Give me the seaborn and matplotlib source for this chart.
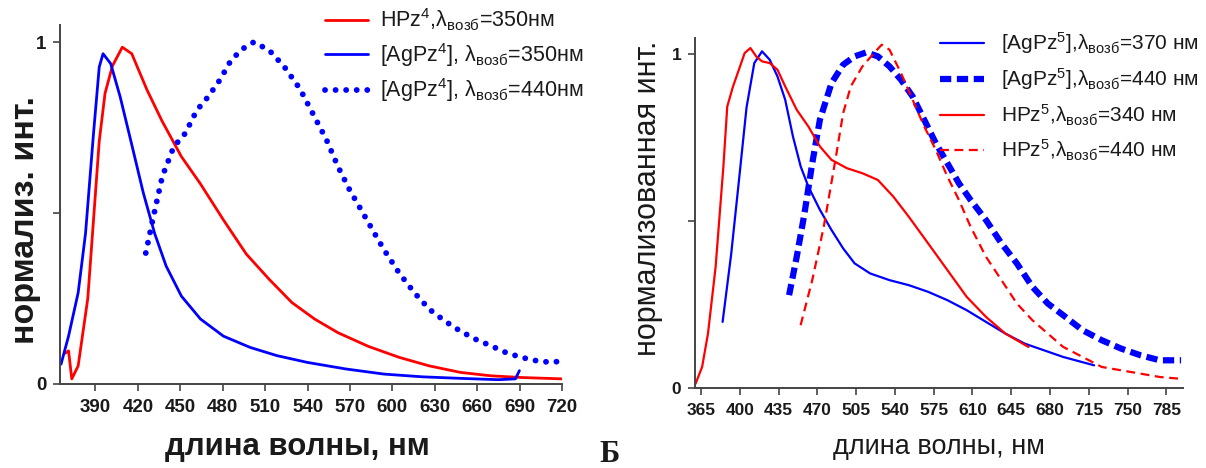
import numpy as np
import pandas as pd
import seaborn as sns
import matplotlib.pyplot as plt

sns.set_style("ticks")
plt.rcParams['font.family'] = ['Liberation Sans', 'DejaVu Sans']
plt.rcParams['mathtext.fontset'] = 'custom'
plt.rcParams['mathtext.rm'] = 'Liberation Sans'
plt.rcParams['mathtext.it'] = 'Liberation Sans:italic'
plt.rcParams['mathtext.bf'] = 'Liberation Sans:bold'

# --- левая панель: HPz4 / [AgPz4] ---
hpz4_350_x = [368.5, 371, 373.3, 377.8, 384.6, 392.7, 396.8, 402, 409, 415.7, 426.5, 437, 450.8, 464,
              480.5, 496.7, 512.9, 529, 545, 561.5, 583, 604.7, 626, 648, 669.5, 691, 720]
hpz4_350_y = [0.09, 0.097, 0.015, 0.053, 0.25, 0.71, 0.85, 0.93, 0.985, 0.966, 0.86, 0.77, 0.665, 0.587,
              0.48, 0.38, 0.306, 0.238, 0.19, 0.15, 0.11, 0.078, 0.053, 0.034, 0.024, 0.019, 0.015]

agpz4_350_x = [365.7, 371, 377.8, 383, 388.6, 392.7, 395.4, 400.8, 407.5, 415.7, 423.8, 431.9, 440, 450.8,
               464.3, 480.5, 499.4, 518.3, 540, 567, 594, 621, 648, 675, 687, 689.8]
agpz4_350_y = [0.058, 0.14, 0.267, 0.44, 0.73, 0.927, 0.966, 0.937, 0.84, 0.70, 0.56, 0.44, 0.345, 0.257,
               0.19, 0.14, 0.107, 0.083, 0.063, 0.044, 0.029, 0.021, 0.0165, 0.0126, 0.015, 0.039]

agpz4_440_x = [425.6, 430.5, 437.3, 445.4, 453.5, 461.6, 469.7, 477.8, 485.9, 494, 502, 512.9, 523.7, 534.5,
               542.6, 553.4, 561.5, 569.7, 577.8, 585.9, 594, 604.7, 615.5, 626.3, 637.1, 647.9, 658.7,
               669.5, 680.3, 691, 701.8, 712.7, 720]
agpz4_440_y = [0.383, 0.48, 0.607, 0.694, 0.733, 0.80, 0.84, 0.888, 0.947, 0.98, 1.0, 0.976, 0.927, 0.864,
               0.80, 0.714, 0.636, 0.568, 0.51, 0.451, 0.393, 0.325, 0.267, 0.218, 0.184, 0.155, 0.131,
               0.112, 0.092, 0.078, 0.068, 0.063, 0.068]

# --- правая панель: [AgPz5] / HPz5 ---
agpz5_370_x = [384.5, 392.2, 399.2, 406.1, 413.1, 420.1, 427, 434, 441, 448, 455, 461.9, 472.4, 482.8,
               493.3, 503.7, 517.7, 535.1, 552.5, 570, 587.4, 604.8, 622.2, 639.7, 657.1, 674.5, 691.9, 719.8]
agpz5_370_y = [0.198, 0.40, 0.62, 0.84, 0.973, 1.008, 0.983, 0.933, 0.863, 0.753, 0.663, 0.603, 0.533, 0.473,
               0.418, 0.373, 0.343, 0.323, 0.308, 0.288, 0.263, 0.233, 0.198, 0.163, 0.133, 0.113, 0.093, 0.068]

agpz5_440_x = [444.5, 451.4, 458.4, 465.4, 472.3, 482.8, 493.3, 503.7, 514.2, 524.6, 535.1, 545.5, 556,
               566.5, 576.9, 587.4, 597.8, 608.3, 622.2, 636.2, 650.1, 664.1, 678, 691.9, 709.4, 726.8,
               744.2, 761.7, 779.1, 798.3]
agpz5_440_y = [0.278, 0.393, 0.523, 0.673, 0.803, 0.913, 0.968, 0.993, 1.005, 0.993, 0.963, 0.923, 0.873,
               0.803, 0.733, 0.673, 0.613, 0.563, 0.503, 0.433, 0.373, 0.303, 0.253, 0.218, 0.173, 0.143,
               0.118, 0.098, 0.083, 0.083]

hpz5_340_x = [360.1, 366, 371.3, 378.2, 385.2, 388.7, 393.9, 399.2, 404.4, 409.6, 414.8, 420.1, 427, 434,
              441, 451.4, 461.9, 472.4, 482.8, 496.8, 510.7, 524.6, 538.6, 552.5, 570, 587.4, 604.8,
              622.2, 639.7, 660.6]
hpz5_340_y = [0.013, 0.063, 0.163, 0.363, 0.663, 0.843, 0.903, 0.953, 1.003, 1.018, 0.993, 0.978, 0.973,
              0.953, 0.903, 0.833, 0.783, 0.723, 0.683, 0.658, 0.643, 0.623, 0.573, 0.513, 0.433, 0.353,
              0.273, 0.213, 0.163, 0.123]

hpz5_440_x = [454.9, 465.4, 475.8, 486.3, 493.3, 500.2, 510.7, 521.2, 528.1, 535.1, 545.5, 556, 566.5,
              576.9, 587.4, 597.8, 608.3, 622.2, 636.2, 650.1, 664.1, 678, 691.9, 709.4, 726.8, 744.2,
              761.7, 779.1, 796.5]
hpz5_440_y = [0.188, 0.323, 0.483, 0.683, 0.823, 0.903, 0.963, 1.003, 1.028, 1.013, 0.943, 0.863, 0.783,
              0.713, 0.633, 0.563, 0.483, 0.393, 0.323, 0.253, 0.203, 0.163, 0.123, 0.093, 0.063, 0.053,
              0.043, 0.033, 0.028]

left_ticks = [390, 420, 450, 480, 510, 540, 570, 600, 630, 660, 690, 720]
right_ticks = [365, 400, 435, 470, 505, 540, 575, 610, 645, 680, 715, 750, 785]

RED = '#ff0000'
BLUE = '#0000ff'
TXT = '#1a1a1a'

fig = plt.figure(figsize=(12.06, 4.68), dpi=100)
ax1 = fig.add_axes([0.0498, 0.1795, 0.4163, 0.7671])
ax2 = fig.add_axes([0.5763, 0.1709, 0.4046, 0.7479])

# левый график
sns.lineplot(x=hpz4_350_x, y=hpz4_350_y, ax=ax1, color=RED, lw=2, sort=False,
             label=r'HPz$^{4}$,λ$_{\mathregular{возб}}$=350нм')
sns.lineplot(x=agpz4_350_x, y=agpz4_350_y, ax=ax1, color=BLUE, lw=2, sort=False,
             label=r'[AgPz$^{4}$], λ$_{\mathregular{возб}}$=350нм')
sns.lineplot(x=agpz4_440_x, y=agpz4_440_y, ax=ax1, color=BLUE, lw=4.2, sort=False,
             linestyle=(0, (0.01, 1.8)), dash_capstyle='round',
             label=r'[AgPz$^{4}$], λ$_{\mathregular{возб}}$=440нм')

# правый график
sns.lineplot(x=agpz5_370_x, y=agpz5_370_y, ax=ax2, color=BLUE, lw=1.6, sort=False,
             label=r'[AgPz$^{5}$],λ$_{\mathregular{возб}}$=370 нм')
sns.lineplot(x=agpz5_440_x, y=agpz5_440_y, ax=ax2, color=BLUE, lw=4.5, sort=False,
             linestyle=(0, (1.8, 0.9)),
             label=r'[AgPz$^{5}$],λ$_{\mathregular{возб}}$=440 нм')
sns.lineplot(x=hpz5_340_x, y=hpz5_340_y, ax=ax2, color=RED, lw=1.6, sort=False,
             label=r'HPz$^{5}$,λ$_{\mathregular{возб}}$=340 нм')
sns.lineplot(x=hpz5_440_x, y=hpz5_440_y, ax=ax2, color=RED, lw=1.6, sort=False,
             linestyle=(0, (4, 2.5)),
             label=r'HPz$^{5}$,λ$_{\mathregular{возб}}$=440 нм')

ax1.set_xlim(365, 720)
ax1.set_ylim(0, 1.05)
ax2.set_xlim(359.6, 800)
ax2.set_ylim(0, 1.048)

for ax, ticks, fs in [(ax1, left_ticks, 13.5), (ax2, right_ticks, 12.5)]:
    ax.set_xticks(ticks)
    ax.set_yticks([0, 0.5, 1])
    ax.set_yticklabels(['0', '', '1'])
    ax.tick_params(axis='x', length=5, width=1.2, color='#444444', pad=6, labelsize=fs, labelcolor=TXT)
    ax.tick_params(axis='y', length=5, width=1.2, color='#444444', pad=5, labelsize=fs, labelcolor=TXT)
    for lab in ax.get_xticklabels() + ax.get_yticklabels():
        lab.set_fontweight('bold')
    for side in ['left', 'bottom']:
        ax.spines[side].set_color('#444444')
        ax.spines[side].set_linewidth(1.4)
    sns.despine(ax=ax)

ax1.set_xlabel('длина волны, нм', fontsize=22.5, fontweight='bold', color=TXT)
ax1.xaxis.set_label_coords(0.473, -0.135)
ax1.set_ylabel('нормализ. инт.', fontsize=24.5, fontweight='bold', color=TXT)
ax1.yaxis.set_label_coords(-0.037, 0.457)
ax2.set_xlabel('длина волны, нм', fontsize=19.5, color=TXT, labelpad=11)
ax2.set_ylabel('нормализованная инт.', fontsize=22, color=TXT)
ax2.yaxis.set_label_coords(-0.066, 0.543)

ax1.legend(loc='upper left', bbox_to_anchor=(0.51, 1.075), frameon=False, fontsize=15.5,
           handlelength=2.0, handletextpad=0.55, labelspacing=0.35, borderaxespad=0,
           labelcolor=TXT)
ax2.legend(loc='upper left', bbox_to_anchor=(0.485, 1.045), frameon=False, fontsize=15,
           handlelength=2.1, handletextpad=0.85, labelspacing=0.48, borderaxespad=0,
           labelcolor=TXT)

fig.text(0.497, 0.012, 'Б', fontsize=22, fontweight='bold', family='Liberation Serif', color=TXT)

fig.savefig('out.png', dpi=100)
